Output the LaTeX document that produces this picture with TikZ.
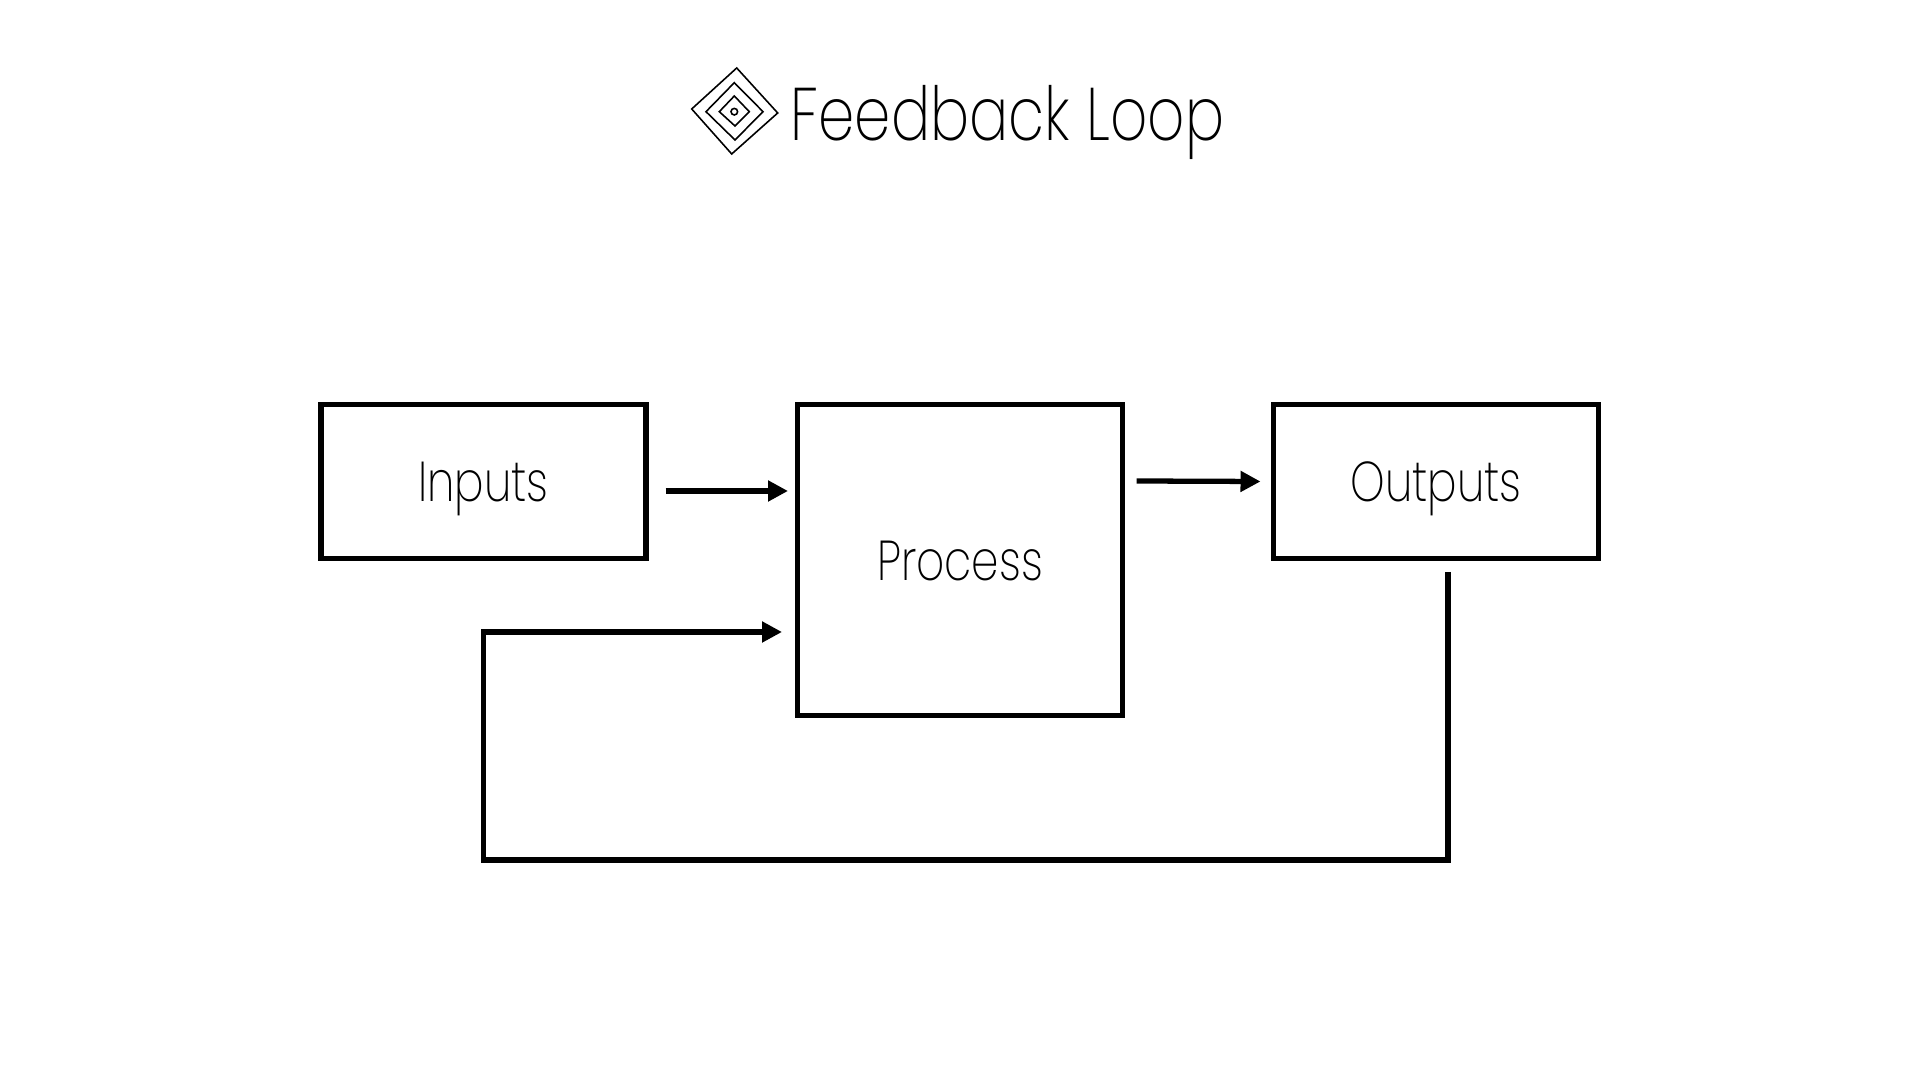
\documentclass[tikz,border=0pt]{standalone}
\usepackage{fontspec}
\setmainfont{Poppins ExtraLight}[FakeStretch=0.78]
\usetikzlibrary{arrows.meta}
\tikzset{
    blockbox/.style={draw=black, line width=1.5pt, outer sep=0pt, text height=0.41cm, text depth=0pt, font=\fontsize{16}{18}\selectfont},
    link/.style={line width=1.5pt, -{Triangle[length=0.2cm,width=0.2cm]}},
    icon/.style={line width=0.45pt}
}
\begin{document}
\begin{tikzpicture}

\useasboundingbox (0,0) rectangle (19.2,10.8);

\node[blockbox, minimum width=3.25cm, minimum height=1.54cm] (inputs) at (4.835,5.985) {Inputs};
\node[blockbox, minimum width=3.25cm, minimum height=3.11cm] (process) at (9.6,5.2) {Process};
\node[blockbox, minimum width=3.25cm, minimum height=1.54cm] (outputs) at (14.36,5.985) {Outputs};

\draw[link] ([shift={(0.195,-0.095)}]inputs.east) -- ([shift={(-0.095,0.69)}]process.west);
\draw[link] ([shift={(0.14,0.79)}]process.east) -- ([shift={(-0.13,0)}]outputs.west);

% feedback path
\coordinate (fbstart) at ([shift={(0.12,-0.135)}]outputs.south);
\coordinate (fbright) at (14.48,2.2);
\coordinate (fbleft) at (inputs.south |- fbright);
\coordinate (fbtip) at ([shift={(-0.155,-0.72)}]process.west);
\draw[link] (fbstart) -- (fbright) -- (fbleft) -- (fbleft |- fbtip) -- (fbtip);

% title and its icon
\node[font=\fontsize{21.2}{24}\selectfont, inner sep=0pt, anchor=base west] (title) at (7.9,9.39) {Feedback Loop};
\draw[icon] (6.917,9.71) -- (7.367,10.12) -- (7.777,9.67) -- (7.317,9.26) -- cycle;
\draw[icon] (7.06,9.683) -- (7.343,9.973) -- (7.63,9.683) -- (7.35,9.40) -- cycle;
\draw[icon] (7.193,9.683) -- (7.343,9.84) -- (7.493,9.683) -- (7.35,9.54) -- cycle;
\draw[icon] (7.343,9.683) circle (0.033);

\end{tikzpicture}
\end{document}
